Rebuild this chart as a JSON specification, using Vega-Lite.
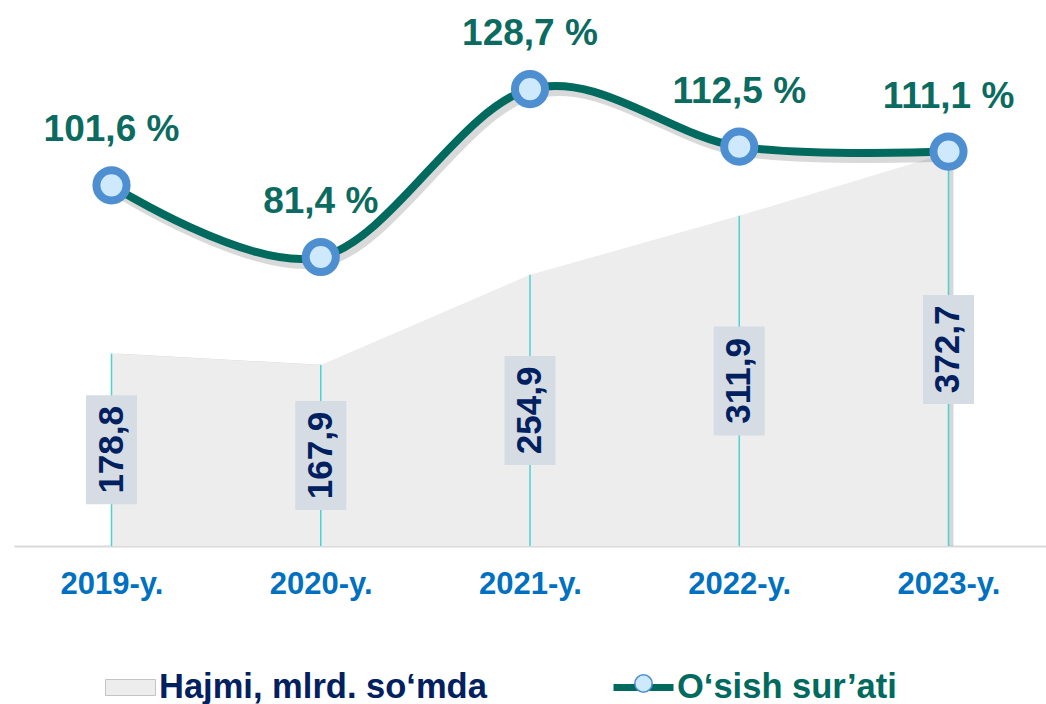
{
  "$schema": "https://vega.github.io/schema/vega-lite/v6.json",
  "autosize": {"type": "none"},
  "width": 1032,
  "height": 497,
  "padding": {"left": 14, "top": 49, "right": 0, "bottom": 158},
  "config": {
    "view": {"stroke": null},
    "font": "Liberation Sans",
    "locale": {"number": {"decimal": ",", "thousands": " ", "grouping": [3], "currency": ["", " %"]}}
  },
  "data": {
    "values": [
      {"year": "2019-y.", "hajmi": 178.8, "osish": 101.6},
      {"year": "2020-y.", "hajmi": 167.9, "osish": 81.4},
      {"year": "2021-y.", "hajmi": 254.9, "osish": 128.7},
      {"year": "2022-y.", "hajmi": 311.9, "osish": 112.5},
      {"year": "2023-y.", "hajmi": 372.7, "osish": 111.1}
    ]
  },
  "encoding": {
    "x": {
      "field": "year", "type": "ordinal", "sort": null,
      "scale": {"type": "point", "padding": 0.466},
      "axis": {
        "title": null, "labelAngle": 0, "ticks": false, "tickSize": 0, "grid": false,
        "domainColor": "#d9d9d9", "domainWidth": 2,
        "labelPadding": 47, "labelBaseline": "alphabetic",
        "labelFont": "Liberation Sans", "labelFontWeight": "bold", "labelFontSize": 31,
        "labelColor": "#0070c0"
      }
    }
  },
  "resolve": {"scale": {"y": "independent"}},
  "layer": [
    {
      "encoding": {
        "y": {"field": "hajmi", "type": "quantitative", "scale": {"domain": [-7, 473], "zero": false, "nice": false}, "axis": null}
      },
      "layer": [
        {"mark": {"type": "area", "color": "#7a7a7a", "opacity": 0.3, "xOffset": 5, "yOffset": 0}, "encoding": {"y2": {"datum": -7}}},
        {
          "mark": {"type": "area"},
          "encoding": {
            "y2": {"datum": -7},
            "fill": {
              "datum": "Hajmi, mlrd. so‘mda",
              "scale": {"range": ["#ededed"]},
              "legend": {
                "orient": "none", "legendX": 91, "legendY": 613, "title": null,
                "symbolType": "M-1,-0.32H1V0.32H-1Z", "symbolSize": 2500,
                "symbolStrokeColor": "#c4c4c4", "symbolStrokeWidth": 1,
                "labelFont": "Liberation Sans", "labelFontWeight": "bold", "labelFontSize": 34.5,
                "labelColor": "#002060", "labelOffset": 3, "labelLimit": 600
              }
            }
          }
        },
        {
          "mark": {"type": "rule", "color": "#4dd2d2", "strokeWidth": 1.5},
          "encoding": {"y2": {"datum": -7}}
        }
      ]
    },
    {
      "encoding": {
        "y": {"field": "hajmi", "type": "quantitative", "scale": {"domain": [-7, 953], "zero": false, "nice": false}, "axis": null}
      },
      "layer": [
        {"mark": {"type": "point", "shape": "M-0.468,-1H0.468V1H-0.468Z", "size": 11881, "filled": true, "color": "#d6dce4", "opacity": 1}},
        {
          "mark": {"type": "text", "angle": 270, "align": "center", "baseline": "middle", "font": "Liberation Sans", "fontWeight": "bold", "fontSize": 35, "color": "#002060"},
          "encoding": {"text": {"field": "hajmi", "type": "quantitative", "format": ".1f"}}
        }
      ]
    },
    {
      "encoding": {
        "y": {"field": "osish", "type": "quantitative", "scale": {"domain": [0, 140], "nice": false}, "axis": null}
      },
      "layer": [
        {"mark": {"type": "line", "interpolate": "cardinal", "color": "#000000", "opacity": 0.15, "strokeWidth": 10, "xOffset": 3, "yOffset": 5}},
        {
          "mark": {"type": "line", "interpolate": "cardinal", "strokeWidth": 8},
          "encoding": {
            "stroke": {
              "datum": "O‘sish sur’ati",
              "scale": {"range": ["#006a5f"]},
              "legend": {
                "orient": "none", "legendX": 596, "legendY": 605, "title": null,
                "symbolType": "stroke", "symbolSize": 3600, "symbolStrokeWidth": 7,
                "labelFont": "Liberation Sans", "labelFontWeight": "bold", "labelFontSize": 34.5,
                "labelColor": "#006a5f", "labelOffset": 0, "labelLimit": 600
              }
            }
          }
        },
        {
          "mark": {"type": "point", "filled": true, "size": 908, "fill": "#cde9fb", "stroke": "#4e8fd1", "strokeWidth": 8, "opacity": 1},
          "encoding": {
            "shape": {
              "datum": "pt",
              "scale": {"range": ["circle"]},
              "legend": {
                "orient": "none", "legendX": 613, "legendY": 618, "title": null,
                "symbolSize": 300, "labelExpr": "''", "labelFontSize": 33,
                "encode": {
                  "symbols": {
                    "update": {
                      "fill": {"value": "#cde9fb"},
                      "stroke": {"value": "#4e8fd1"},
                      "strokeWidth": {"value": 6},
                      "opacity": {"value": 1},
                      "size": {"value": 300}
                    }
                  }
                }
              }
            }
          }
        },
        {
          "mark": {"type": "text", "align": "center", "baseline": "alphabetic", "dy": -44, "font": "Liberation Sans", "fontWeight": "bold", "fontSize": 37, "color": "#0b6b60"},
          "encoding": {"text": {"field": "osish", "type": "quantitative", "format": "$.1f"}}
        }
      ]
    }
  ]
}
